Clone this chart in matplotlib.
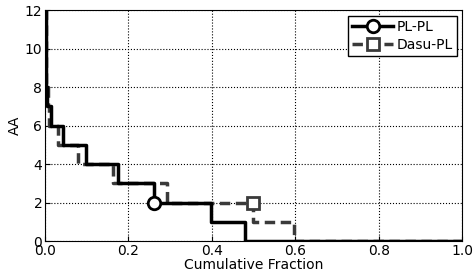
import matplotlib
matplotlib.use('Agg')
import matplotlib.pyplot as plt

# step data: cumulative fraction where each AA level starts
pl_x = [0.0, 0.002, 0.005, 0.015, 0.042, 0.098, 0.176, 0.262, 0.398, 0.48, 1.0]
pl_y = [12, 8, 7, 6, 5, 4, 3, 2, 1, 0, 0]
pl_mark = (0.262, 2)

dasu_x = [0.0, 0.003, 0.006, 0.01, 0.032, 0.08, 0.164, 0.292, 0.498, 0.596, 1.0]
dasu_y = [12, 8, 7, 6, 5, 4, 3, 2, 1, 0, 0]
dasu_mark = (0.498, 2)

plt.rcParams['font.family'] = 'DejaVu Sans'
plt.rcParams['xtick.direction'] = 'in'
plt.rcParams['ytick.direction'] = 'in'

fig = plt.figure(figsize=(4.74, 2.8), dpi=100)
ax = fig.add_axes([0.095, 0.139, 0.88, 0.825])

gray = '#3a3a3a'
# dashed series first so the solid one sits on top
l2, = ax.plot(dasu_x, dasu_y, drawstyle='steps-post', color=gray, lw=2.5,
              ls=(0, (3, 1.6)))
m2, = ax.plot([dasu_mark[0]], [dasu_mark[1]], 's', ms=9, mfc='white',
              mec=gray, mew=2, ls='none')
l1, = ax.plot(pl_x, pl_y, drawstyle='steps-post', color='black', lw=2.5)
m1, = ax.plot([pl_mark[0]], [pl_mark[1]], 'o', ms=9, mfc='white',
              mec='black', mew=2, ls='none')

ax.set_xlim(0, 1.0)
ax.set_ylim(0, 12)
ax.set_xticks([0, 0.2, 0.4, 0.6, 0.8, 1.0])
ax.set_yticks([0, 2, 4, 6, 8, 10, 12])
ax.grid(True, color='black', ls=':', lw=0.8)
ax.tick_params(labelsize=10, pad=2)

ax.set_xlabel('Cumulative Fraction', fontsize=10, labelpad=0)
ax.set_ylabel('AA', fontsize=10, labelpad=2)

leg = ax.legend([(l1, m1), (l2, m2)], ['PL-PL', 'Dasu-PL'], loc='upper right',
                fontsize=10, handlelength=3.0, handletextpad=0.2,
                borderpad=0.3, labelspacing=0.3, fancybox=False,
                framealpha=1, edgecolor='black', borderaxespad=0.4)
leg.get_frame().set_linewidth(1.0)

fig.savefig('out.png', dpi=100)
